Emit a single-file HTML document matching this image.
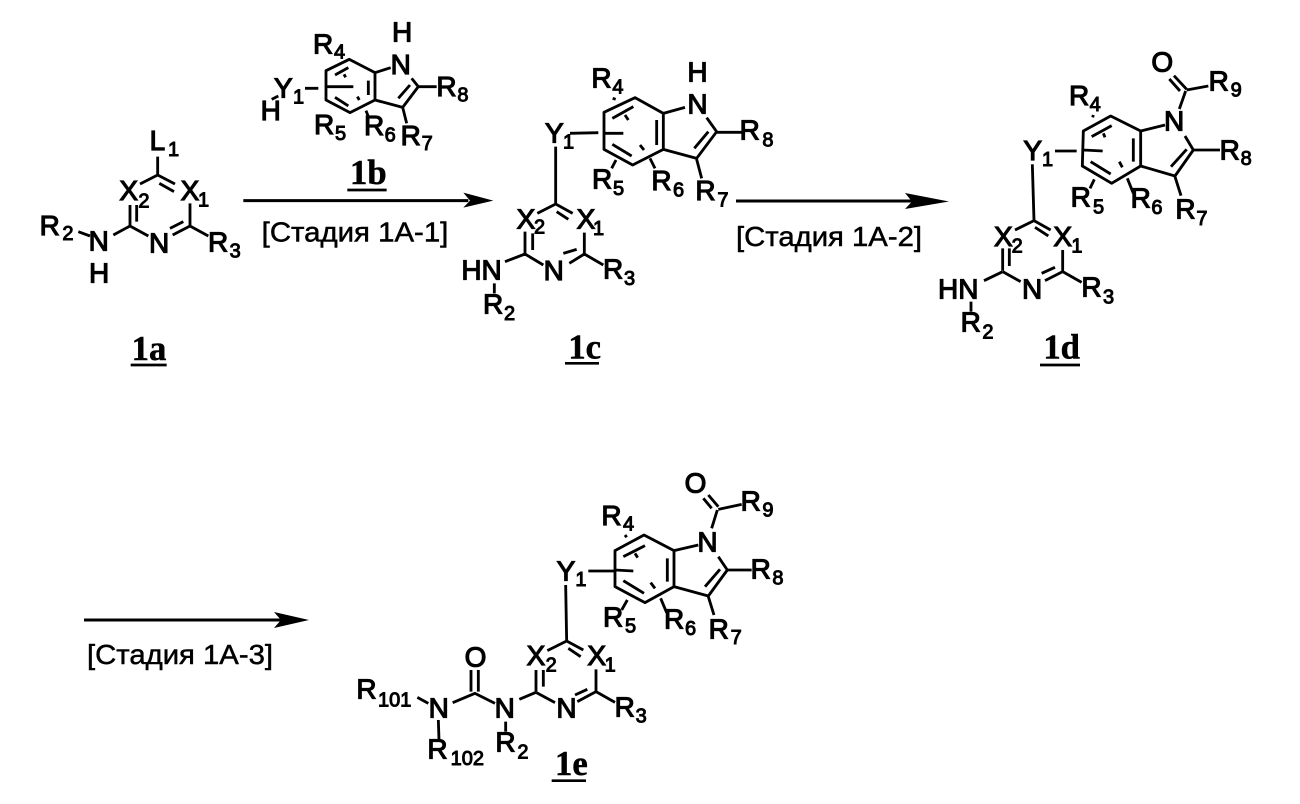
<!DOCTYPE html>
<html><head><meta charset="utf-8"><title>Reaction scheme</title>
<style>
html,body{margin:0;padding:0;background:#fff}
svg{display:block}
.l{fill:none;stroke:#000;stroke-width:8.500;stroke-linejoin:round;stroke-linecap:butt}
.u{fill:none;stroke:#000;stroke-width:8}
text{font-family:"Liberation Sans",sans-serif;fill:#000}
.a{font-size:84px;stroke:#000;stroke-width:3.500}
.s{font-size:60px;stroke:#000;stroke-width:3}
.b{font-family:"Liberation Serif",serif;font-weight:bold;font-size:104px;stroke:#000;stroke-width:1.500}
.c{font-size:84px;stroke:#000;stroke-width:1.500}
.t{stroke:#000;stroke-width:.5}
</style></head><body>
<svg xmlns="http://www.w3.org/2000/svg" width="1300" height="804" viewBox="0 0 1300 804">
<rect width="1300" height="804" fill="#fff"/>

<!-- 1a, 1b, arrow 1 -->
<g transform="translate(20 20) scale(.33333)">
<path class="l" d="M413 410V465M413 465L360 492M413 465L465 492M418 490L462 515M330 555V618M350 555V605M330 618L385 648M280 645L330 618M175 635L210 648M510 550V618L458 645M450 625L490 605M510 618L565 648"/>
<text class="a" x="389" y="390">L</text><text class="s" x="444" y="408">1</text>
<text class="a" x="298" y="540">X</text><text class="s" x="355" y="562">2</text>
<text class="a" x="482" y="540">X</text><text class="s" x="534" y="560">1</text>
<text class="a" x="59" y="645">R</text><text class="s" x="127" y="660">2</text>
<text class="a" x="206" y="692">N</text><text class="a" x="207" y="788">H</text>
<text class="a" x="387" y="697">N</text>
<text class="a" x="564" y="695">R</text><text class="s" x="629" y="712">3</text>
<text class="b" x="335" y="1020">1a</text><path class="u" d="M332 1035H440"/>
<!-- 1b -->
<path class="l" d="M918 152L988 118L1065 158V240L990 278L918 240ZM945 165L985 143M1045 182V225M945 232L985 258M1065 158L1112 143M1065 240L1148 262L1195 200L1175 175M1135 235L1170 195M1195 200H1250M1148 262L1160 310M855 205H895M918 200H1000M972 163L977 172M1012 230L1018 240M1038 272L1045 290M755 238L775 228"/>
<text class="a" x="1116" y="65">H</text><text class="a" x="1112" y="162">N</text>
<text class="a" x="879" y="100">R</text><text class="s" x="942" y="115">4</text>
<text class="a" x="762" y="232">Y</text><text class="s" x="819" y="250">1</text>
<text class="a" x="722" y="300">H</text>
<text class="a" x="1249" y="228">R</text><text class="s" x="1312" y="245">8</text>
<text class="a" x="882" y="342">R</text><text class="s" x="945" y="360">5</text>
<text class="a" x="1032" y="345">R</text><text class="s" x="1094" y="365">6</text>
<text class="a" x="1142" y="375">R</text><text class="s" x="1205" y="390">7</text>
<text class="b" x="990" y="492">1b</text><path class="u" d="M982 510H1100"/>
<!-- arrow 1 -->
<path fill="none" stroke="#000" stroke-width="9" d="M670 542H1345"/>
<path d="M1330 518L1420 542L1330 563L1350 542Z"/>
<text class="c" x="725" y="665" textLength="560" lengthAdjust="spacingAndGlyphs">[Стадия 1A-1]</text>
</g>

<!-- 1c -->
<g transform="translate(450 50) scale(.33333)">
<path class="l" d="M462 187L555 143L640 190V298L548 345L462 298ZM487 205L550 170M620 210V285M487 283L545 318M525 195L535 210M570 285L582 300M640 190L705 172M640 298L740 325L800 245L770 203M733 295L775 245M800 247H875M740 328L755 385M488 145L497 148M485 355L498 330M600 325L615 355M360 250L445 248M465 250H520M317 290V462M317 462L262 490M317 462L368 490M320 485L355 508M225 545V612M248 550V600M225 612L280 645M165 635L225 612M403 548V612L358 640M340 610L380 598M403 612L460 645M133 700V730"/>
<text class="a" x="712" y="95">H</text><text class="a" x="712" y="190">N</text>
<text class="a" x="424" y="112">R</text><text class="s" x="487" y="130">4</text>
<text class="a" x="285" y="278">Y</text><text class="s" x="339" y="295">1</text>
<text class="a" x="869" y="268">R</text><text class="s" x="937" y="290">8</text>
<text class="a" x="426" y="415">R</text><text class="s" x="489" y="435">5</text>
<text class="a" x="604" y="420">R</text><text class="s" x="669" y="440">6</text>
<text class="a" x="736" y="450">R</text><text class="s" x="802" y="470">7</text>
<text class="a" x="200" y="535">X</text><text class="s" x="252" y="550">2</text>
<text class="a" x="380" y="535">X</text><text class="s" x="429" y="555">1</text>
<text class="a" x="34" y="688">HN</text><text class="a" x="281" y="690">N</text>
<text class="a" x="459" y="685">R</text><text class="s" x="522" y="705">3</text>
<text class="a" x="99" y="790">R</text><text class="s" x="162" y="810">2</text>
<text class="b" x="355" y="925">1c</text><path class="u" d="M345 940H447"/>
</g>

<!-- arrow 2 -->
<path fill="none" stroke="#000" stroke-width="3" d="M736 201H915"/>
<path d="M905 193L949 201.500L905 209L912 201.500Z"/>
<text class="t" x="736" y="246" font-size="28" textLength="186" lengthAdjust="spacingAndGlyphs">[Стадия 1A-2]</text>

<!-- 1d -->
<g transform="translate(920 30) scale(.33333)">
<path class="l" d="M490 303L572 258L662 303V408L575 460L487 408ZM515 320L575 287M640 325V395M512 395L572 432M550 310L555 322M598 395L607 412M662 303L735 285M662 408L765 438L820 360L795 318M753 410L800 358M820 360H900M765 440L783 497M520 255L518 262M510 475L523 448M622 445L640 490M405 363H470M490 360L548 363M337 403L342 572M342 572L285 600M342 572L392 600M345 592L385 618M248 655V722M268 655V708M248 725L302 755M192 752L248 725M428 660V725L375 752M365 730L405 712M428 725L485 757M153 815V845M780 183L748 147M800 178L762 137M800 180L865 168M797 183L778 237"/>
<text class="a" x="694" y="125">O</text>
<text class="a" x="866" y="182">R</text><text class="s" x="932" y="200">9</text>
<text class="a" x="732" y="302">N</text>
<text class="a" x="447" y="225">R</text><text class="s" x="509" y="243">4</text>
<text class="a" x="310" y="390">Y</text><text class="s" x="366" y="408">1</text>
<text class="a" x="899" y="388">R</text><text class="s" x="962" y="405">8</text>
<text class="a" x="452" y="530">R</text><text class="s" x="519" y="550">5</text>
<text class="a" x="632" y="533">R</text><text class="s" x="694" y="552">6</text>
<text class="a" x="766" y="565">R</text><text class="s" x="829" y="585">7</text>
<text class="a" x="222" y="648">X</text><text class="s" x="275" y="668">2</text>
<text class="a" x="400" y="648">X</text><text class="s" x="454" y="668">1</text>
<text class="a" x="54" y="805">HN</text><text class="a" x="306" y="805">N</text>
<text class="a" x="484" y="800">R</text><text class="s" x="549" y="820">3</text>
<text class="a" x="122" y="905">R</text><text class="s" x="187" y="925">2</text>
<text class="b" x="370" y="985">1d</text><path class="u" d="M360 1005H480"/>
</g>

<!-- arrow 3 -->
<path fill="none" stroke="#000" stroke-width="3" d="M84 620H285"/>
<path d="M274 612L309 620L274 628L281 620Z"/>
<text class="t" x="87" y="664" font-size="28" textLength="186" lengthAdjust="spacingAndGlyphs">[Стадия 1A-3]</text>

<!-- 1e -->
<g transform="translate(340 460) scale(.33333)">
<path class="l" d="M825 272L912 225L1002 272V380L915 428L825 380ZM850 290L915 257M982 295V365M850 362L912 400M885 280L893 293M932 368L945 385M1002 272L1075 255M1002 380L1105 408L1162 330L1135 290M1095 380L1140 328M1162 330H1235M1105 410L1122 465M855 225L860 232M845 450L862 420M962 415L980 458M745 333H825M825 330L880 333M677 375L680 543M680 543L622 572M680 543L730 570M685 565L722 590M588 630V695M610 630V680M588 697L645 728M538 718L588 697M768 628V695L712 725M705 705L742 688M768 695L825 727M393 630V695M415 630V695M338 728L405 700L465 730M232 712L265 730M295 780L297 840M497 785V815M1115 145L1090 115M1135 140L1105 105M1135 148L1205 133M1132 150L1115 205"/>
<text class="a" x="1034" y="97">O</text>
<text class="a" x="1202" y="152">R</text><text class="s" x="1267" y="170">9</text>
<text class="a" x="1072" y="275">N</text>
<text class="a" x="784" y="195">R</text><text class="s" x="849" y="212">4</text>
<text class="a" x="650" y="362">Y</text><text class="s" x="706" y="378">1</text>
<text class="a" x="1232" y="355">R</text><text class="s" x="1297" y="373">8</text>
<text class="a" x="789" y="500">R</text><text class="s" x="855" y="518">5</text>
<text class="a" x="972" y="505">R</text><text class="s" x="1035" y="525">6</text>
<text class="a" x="1106" y="535">R</text><text class="s" x="1172" y="552">7</text>
<text class="a" x="560" y="615">X</text><text class="s" x="617" y="635">2</text>
<text class="a" x="742" y="615">X</text><text class="s" x="794" y="635">1</text>
<text class="a" x="374" y="620">O</text>
<text class="a" x="49" y="715">R</text><text class="s" x="114" y="740">101</text>
<text class="a" x="266" y="772">N</text><text class="a" x="464" y="772">N</text><text class="a" x="649" y="772">N</text>
<text class="a" x="824" y="770">R</text><text class="s" x="887" y="788">3</text>
<text class="a" x="262" y="895">R</text><text class="s" x="332" y="915">102</text>
<text class="a" x="466" y="875">R</text><text class="s" x="532" y="895">2</text>
<text class="b" x="645" y="945">1e</text><path class="u" d="M635 962H738"/>
</g>
</svg>
</body></html>
